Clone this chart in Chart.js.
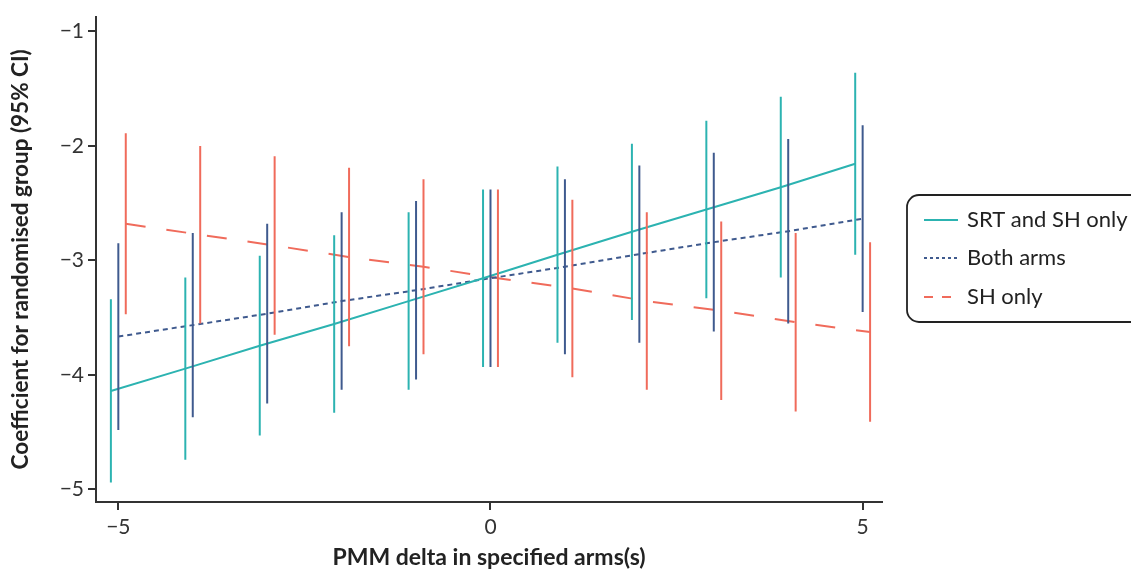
<!DOCTYPE html>
<html>
<head>
<meta charset="utf-8">
<script src="https://cdn.jsdelivr.net/npm/chart.js@4.4.1/dist/chart.umd.min.js"></script>
<style>
  html, body { margin: 0; padding: 0; background: #fff; }
  #wrap { width: 1131px; height: 574px; position: relative; }
</style>
</head>
<body>
<div id="wrap"><canvas id="chart"></canvas></div>
<script>
// PMM delta values (x)
const deltas = [-5, -4, -3, -2, -1, 0, 1, 2, 3, 4, 5];
const xTicks = [-5, 0, 5];
const yTicks = [-5, -4, -3, -2, -1];

// SRT and SH only
const srtEst = [-4.14, -3.945, -3.745, -3.555, -3.355, -3.155, -2.95, -2.75, -2.555, -2.36, -2.155];
const srtLow = [-4.94, -4.74, -4.53, -4.33, -4.13, -3.93, -3.72, -3.52, -3.33, -3.15, -2.95];
const srtHigh = [-3.34, -3.15, -2.96, -2.78, -2.58, -2.38, -2.18, -1.98, -1.78, -1.57, -1.36];

// Both arms
const bothEst = [-3.665, -3.565, -3.465, -3.355, -3.26, -3.155, -3.055, -2.945, -2.84, -2.745, -2.635];
const bothLow = [-4.48, -4.37, -4.25, -4.13, -4.04, -3.93, -3.82, -3.72, -3.62, -3.55, -3.45];
const bothHigh = [-2.85, -2.76, -2.68, -2.58, -2.48, -2.38, -2.29, -2.17, -2.06, -1.94, -1.82];

// SH only
const shEst = [-2.68, -2.775, -2.87, -2.97, -3.055, -3.155, -3.245, -3.355, -3.44, -3.54, -3.625];
const shLow = [-3.47, -3.55, -3.65, -3.75, -3.82, -3.93, -4.02, -4.13, -4.22, -4.32, -4.41];
const shHigh = [-1.89, -2.0, -2.09, -2.19, -2.29, -2.38, -2.47, -2.58, -2.66, -2.76, -2.84];

const series = [
  { label: 'SRT and SH only', est: srtEst, low: srtLow, high: srtHigh, shift: -0.1, color: '#2cb3b1', dash: [] },
  { label: 'Both arms', est: bothEst, low: bothLow, high: bothHigh, shift: 0, color: '#3f5a8e', dash: [5, 4] },
  { label: 'SH only', est: shEst, low: shLow, high: shHigh, shift: 0.1, color: '#f06b5b', dash: [20, 21] }
];

const minus = v => String(v).replace('-', '\u2212');

const datasets = [];
series.forEach(s => {
  datasets.push({
    label: s.label + ' CI',
    data: deltas.flatMap((d, i) => [
      { x: d + s.shift, y: s.low[i] },
      { x: d + s.shift, y: s.high[i] },
      { x: d + s.shift, y: null }
    ]),
    showLine: true,
    spanGaps: false,
    borderColor: s.color,
    borderWidth: 2,
    pointRadius: 0,
    borderCapStyle: 'butt'
  });
});
series.forEach(s => {
  datasets.push({
    label: s.label,
    isLegend: true,
    data: deltas.map((d, i) => ({ x: d + s.shift, y: s.est[i] })),
    showLine: true,
    borderColor: s.color,
    borderWidth: 2,
    borderDash: s.dash,
    pointRadius: 0,
    tension: 0,
    borderCapStyle: 'butt'
  });
});

// Legend box on the right
const boxLegend = {
  id: 'boxLegend',
  afterDraw(chart) {
    const ctx = chart.ctx;
    ctx.save();
    const x = 907, y = 195, w = 240, h = 127, r = 12;
    ctx.beginPath();
    ctx.roundRect(x, y, w, h, r);
    ctx.lineWidth = 1.8;
    ctx.strokeStyle = '#222';
    ctx.stroke();
    const rows = [220, 258, 297];
    chart.data.datasets.filter(d => d.isLegend).forEach((d, i) => {
      ctx.beginPath();
      ctx.setLineDash(d.borderDash.length ? (i === 2 ? [9, 9] : [3, 3]) : []);
      ctx.strokeStyle = d.borderColor;
      ctx.lineWidth = 2;
      ctx.moveTo(924, rows[i]);
      ctx.lineTo(958, rows[i]);
      ctx.stroke();
      ctx.setLineDash([]);
      ctx.fillStyle = '#222';
      ctx.font = '22px Lato';
      ctx.textBaseline = 'middle';
      ctx.fillText(d.label, 967, rows[i]);
    });
    ctx.restore();
  }
};

new Chart(document.getElementById('chart'), {
  type: 'scatter',
  data: { datasets },
  options: {
    responsive: true,
    maintainAspectRatio: false,
    animation: false,
    layout: { padding: { top: 15, right: 249, left: 0, bottom: 0 } },
    plugins: { legend: { display: false }, tooltip: { enabled: false } },
    scales: {
      x: {
        type: 'linear',
        min: -5.3,
        max: 5.26,
        afterBuildTicks: axis => { axis.ticks = xTicks.map(v => ({ value: v })); },
        afterFit: axis => { axis.height = 72; },
        grid: { display: true, drawOnChartArea: false, drawTicks: true, tickLength: 8, color: '#333', lineWidth: 2 },
        border: { display: true, color: '#333', width: 2 },
        ticks: { color: '#333', font: { family: 'Lato', size: 21 }, padding: 5, callback: v => minus(v) },
        title: { display: true, text: 'PMM delta in specified arms(s)', color: '#222', font: { family: 'Lato', size: 23, weight: 'bold' }, padding: { top: 4, bottom: 3 } }
      },
      y: {
        min: -5.11,
        max: -0.87,
        afterBuildTicks: axis => { axis.ticks = yTicks.map(v => ({ value: v })); },
        afterFit: axis => { axis.width = 96; },
        grid: { display: true, drawOnChartArea: false, drawTicks: true, tickLength: 8, color: '#333', lineWidth: 2 },
        border: { display: true, color: '#333', width: 2 },
        ticks: { color: '#333', font: { family: 'Lato', size: 21 }, padding: 4, callback: v => minus(v) },
        title: { display: true, text: 'Coefficient for randomised group (95% CI)', color: '#222', font: { family: 'Lato', size: 22.5, weight: 'bold' }, padding: { top: 7, bottom: 4 } }
      }
    }
  },
  plugins: [boxLegend]
});
</script>
</body>
</html>
